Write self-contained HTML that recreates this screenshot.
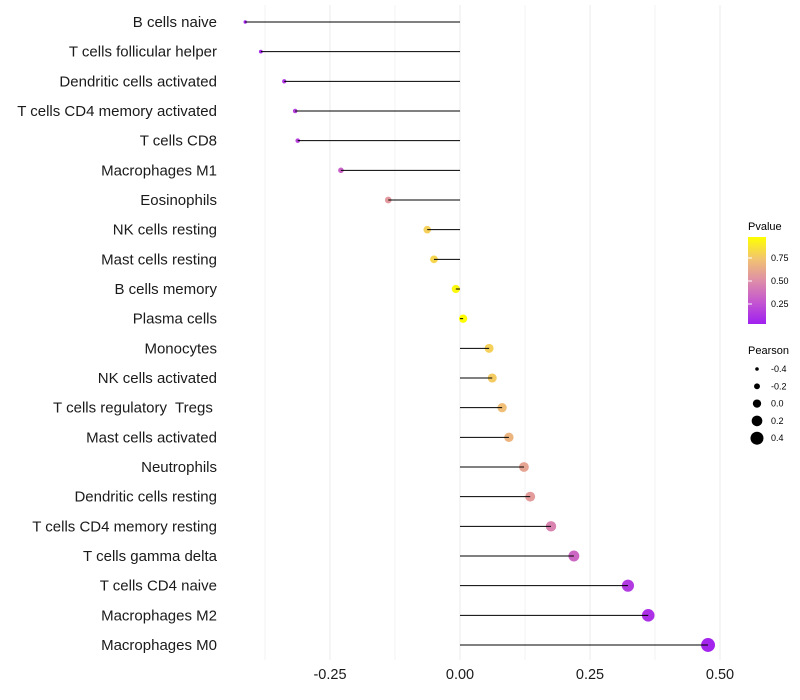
<!DOCTYPE html>
<html><head><meta charset="utf-8">
<style>
html,body{margin:0;padding:0;background:#fff;}
svg{display:block;font-family:"Liberation Sans",sans-serif;}
</style></head>
<body>
<svg id="chart" width="800" height="700">
<defs>
<linearGradient id="pgrad" x1="0" y1="1" x2="0" y2="0">
<stop offset="0" stop-color="#a020f0"/>
<stop offset="0.25" stop-color="#c456d0"/>
<stop offset="0.5" stop-color="#de8ea8"/>
<stop offset="0.75" stop-color="#f2c470"/>
<stop offset="1" stop-color="#ffff00"/>
</linearGradient>
</defs>
<g id="grid"></g>
<g id="points"></g>
<g id="stems"></g>
<g id="ylabels"></g>
<g id="xticks"></g>
<g id="legend">
<text x="748" y="230" font-size="11" fill="#000">Pvalue</text>
<rect x="748" y="237" width="18" height="87" fill="url(#pgrad)"/>
</g>
</svg>
<script>
const categories=["B cells naive","T cells follicular helper","Dendritic cells activated","T cells CD4 memory activated","T cells CD8","Macrophages M1","Eosinophils","NK cells resting","Mast cells resting","B cells memory","Plasma cells","Monocytes","NK cells activated","T cells regulatory  Tregs ","Mast cells activated","Neutrophils","Dendritic cells resting","T cells CD4 memory resting","T cells gamma delta","T cells CD4 naive","Macrophages M2","Macrophages M0"];
const pearson=[-0.413,-0.383,-0.338,-0.317,-0.312,-0.229,-0.138,-0.063,-0.05,-0.008,0.006,0.056,0.062,0.081,0.094,0.123,0.135,0.175,0.219,0.323,0.362,0.477];
const pvalues=[0.03,0.05,0.1,0.15,0.16,0.3,0.55,0.8,0.82,0.97,0.99,0.8,0.78,0.72,0.68,0.6,0.56,0.45,0.33,0.12,0.08,0.02];
const xTicks=[-0.25,0,0.25,0.5];
const xTickLabels=["-0.25","0.00","0.25","0.50"];
const pTicks=[0.25,0.5,0.75];
const pTickLabels=["0.25","0.50","0.75"];
const sizeBreaks=[-0.4,-0.2,0.0,0.2,0.4];
const sizeLabels=["-0.4","-0.2","0.0","0.2","0.4"];

const NS="http://www.w3.org/2000/svg";
function x(v){return 460+v*520;}
function y(i){return 22+i*(623/21);}
function rad(v){return 4.15+5.9*v;}
function pY(p){return 327-p*92;}
const stops=[[0,[160,32,240]],[0.25,[196,86,208]],[0.5,[222,142,168]],[0.75,[242,196,112]],[1,[255,255,0]]];
function col(p){for(let k=0;k<stops.length-1;k++){const a=stops[k],b=stops[k+1];if(p<=b[0]){const t=(p-a[0])/(b[0]-a[0]);const c=a[1].map((u,j)=>Math.round(u+(b[1][j]-u)*t));return `rgb(${c})`;}}return "rgb(255,255,0)";}
function mk(tag,attrs,parent){const e=document.createElementNS(NS,tag);for(const k in attrs)e.setAttribute(k,attrs[k]);parent.appendChild(e);return e;}

const grid=document.getElementById('grid');
[-0.375,-0.125,0.125,0.375].forEach(v=>{const l=mk('line',{x1:x(v),x2:x(v),y1:5,y2:660,stroke:'#f3f3f3','stroke-width':1},grid);

});
xTicks.forEach(v=>{const l=mk('line',{x1:x(v),x2:x(v),y1:5,y2:660,stroke:'#ebebeb','stroke-width':1},grid);

});

const pts=document.getElementById('points'),stems=document.getElementById('stems'),yl=document.getElementById('ylabels');
categories.forEach((c,i)=>{
 const pt=mk('circle',{cx:x(pearson[i]),cy:y(i),r:rad(pearson[i]),fill:col(pvalues[i])},pts);
 
 
 const ln=mk('line',{x1:x(0),x2:x(pearson[i]),y1:y(i),y2:y(i),stroke:'#000','stroke-width':1},stems);
 
 
 const t=mk('text',{x:217,y:y(i)+5,'text-anchor':'end','font-size':15,fill:'#1a1a1a',style:'white-space:pre'},yl);
 t.textContent=c;
 
 
});
const xt=document.getElementById('xticks');
xTicks.forEach((v,i)=>{const t=mk('text',{x:x(v),y:679,'text-anchor':'middle','font-size':14.5,fill:'#1a1a1a'},xt);t.textContent=xTickLabels[i];

});
const lg=document.getElementById('legend');
pTicks.forEach((p,i)=>{const t=mk('text',{x:771,y:pY(p)+3,'font-size':9,fill:'#000'},lg);t.textContent=pTickLabels[i];


const a=mk('line',{x1:748,x2:752,y1:pY(p),y2:pY(p),stroke:'#fff'},lg);

});
const st=mk('text',{x:748,y:354,'font-size':11,fill:'#000'},lg);st.textContent='Pearson';


sizeBreaks.forEach((v,i)=>{const cy=369+i*17.3;
const c=mk('circle',{cx:757,cy:cy,r:rad(v),fill:'#000'},lg);


const t=mk('text',{x:771,y:cy+3,'font-size':9,fill:'#000'},lg);t.textContent=sizeLabels[i];

});
</script>
</body></html>
